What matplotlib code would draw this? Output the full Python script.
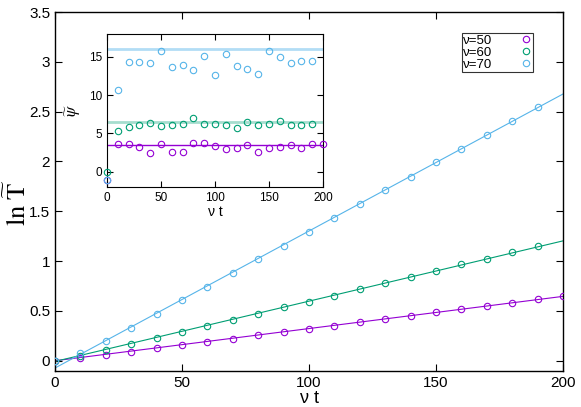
import matplotlib
matplotlib.use("Agg")
import matplotlib.pyplot as plt
import numpy as np

plt.rcParams['font.family'] = ['Liberation Sans', 'DejaVu Sans']
plt.rcParams['mathtext.fontset'] = 'stix'

# ---- data ----
t = [0, 10, 20, 30, 40, 50, 60, 70, 80, 90, 100, 110, 120, 130, 140, 150, 160, 170, 180, 190, 200]
labels = ["ν=50", "ν=60", "ν=70"]
colors = ["#9400d3", "#009e73", "#56b4e9"]

lnT_50 = [0.0, 0.027, 0.057, 0.09, 0.123, 0.16, 0.19, 0.222, 0.257, 0.293, 0.323,
          0.353, 0.387, 0.42, 0.453, 0.487, 0.517, 0.55, 0.583, 0.617, 0.647]
lnT_60 = [0.0, 0.045, 0.107, 0.17, 0.232, 0.29, 0.353, 0.41, 0.473, 0.537, 0.593,
          0.653, 0.717, 0.78, 0.84, 0.903, 0.967, 1.023, 1.09, 1.153]
lnT_70 = [0.0, 0.077, 0.197, 0.333, 0.472, 0.608, 0.743, 0.883, 1.02, 1.153, 1.293,
          1.433, 1.57, 1.713, 1.847, 1.99, 2.127, 2.263, 2.403, 2.543]

fit_slope = [0.00323, 0.00605, 0.01375]
fit_intercept = [0.0, -0.007, -0.073]

psi_50 = [-1.1, 3.57, 3.57, 3.26, 2.48, 3.57, 2.6, 2.52, 3.74, 3.7, 3.3,
          3.0, 3.09, 3.48, 2.57, 3.09, 3.26, 3.52, 3.09, 3.65, 3.57]
psi_60 = [0.0, 5.26, 5.83, 6.04, 6.43, 5.96, 6.04, 6.22, 7.0, 6.17, 6.3,
          6.09, 5.74, 6.48, 6.04, 6.17, 6.57, 6.04, 6.13, 6.3]
psi_70 = [-1.1, 10.65, 14.39, 14.39, 14.26, 15.78, 13.7, 13.9, 13.35, 15.13, 12.7,
          15.39, 13.78, 13.48, 12.78, 15.78, 15.0, 14.2, 14.48, 14.52]
psi_level = [3.43, 6.48, 16.0]

main_xticks = [0, 50, 100, 150, 200]
main_yticks = [0, 0.5, 1, 1.5, 2, 2.5, 3, 3.5]
main_yticklabels = ["0", "0.5", "1", "1.5", "2", "2.5", "3", "3.5"]
inset_xticks = [0, 50, 100, 150, 200]
inset_yticks = [0, 5, 10, 15]

lnT = [lnT_50, lnT_60, lnT_70]
psi = [psi_50, psi_60, psi_70]

fig = plt.figure(figsize=(5.81, 4.07), dpi=100)
ax = fig.add_axes([55/581, 1 - 370.7/407, (563-55)/581, (370.7-12)/407])

xfit = np.array([0, 200])
for i in range(3):
    n = len(lnT[i])
    ax.plot(xfit, fit_intercept[i] + fit_slope[i]*xfit, color=colors[i], lw=0.8, zorder=2)
    ax.plot(t[:n], lnT[i], linestyle='none', marker='o', mfc='none', mec=colors[i],
            ms=4.6, mew=0.8, label=labels[i], zorder=3)

ax.set_xlim(0, 200)
ax.set_ylim(-0.1, 3.5)
ax.set_xticks(main_xticks)
ax.set_yticks(main_yticks)
ax.set_yticklabels(main_yticklabels)
ax.tick_params(direction='in', top=True, right=True, labelsize=11, length=5, width=0.8)
ax.set_xlabel("ν t", fontsize=13, labelpad=0)
ax.set_ylabel(r"$\mathrm{ln}\ \widetilde{\mathrm{T}}$", fontsize=19)
ax.yaxis.set_label_coords((31-55)/508, 1 - (202-12)/358.7)
for s in ax.spines.values():
    s.set_linewidth(1.0)

leg = ax.legend(loc='upper left', bbox_to_anchor=((462-55)/508, 1 - (33-12)/358.7),
                fontsize=9.5, frameon=True, fancybox=False, edgecolor='black',
                markerfirst=False, handlelength=1.0, handletextpad=2.0,
                borderpad=0.1, labelspacing=0.0, borderaxespad=0)
leg.get_frame().set_linewidth(0.8)

# inset
ins = fig.add_axes([107/581, 1 - 187/407, 216/581, 153/407])
ins_lw = [1.0, 2.0, 2.0]
ins_alpha = [1.0, 0.35, 0.45]
for i in range(3):
    ins.axhline(psi_level[i], color=colors[i], lw=ins_lw[i], alpha=ins_alpha[i], zorder=2)
for i in range(3):
    n = len(psi[i])
    ins.plot(t[:n], psi[i], linestyle='none', marker='o', mfc='none', mec=colors[i],
             ms=4.6, mew=0.8, zorder=3, clip_on=False)
ins.set_xlim(0, 200)
ins.set_ylim(-2, 18)
ins.set_xticks(inset_xticks)
ins.set_yticks(inset_yticks)
ins.tick_params(direction='in', top=True, right=True, labelsize=8.5, length=4, width=0.8)
ins.set_xlabel("ν t", fontsize=10, labelpad=1)
ins.set_ylabel(r"$\widetilde{\psi}$", fontsize=12, labelpad=4)

fig.savefig("out.png", dpi=100)
